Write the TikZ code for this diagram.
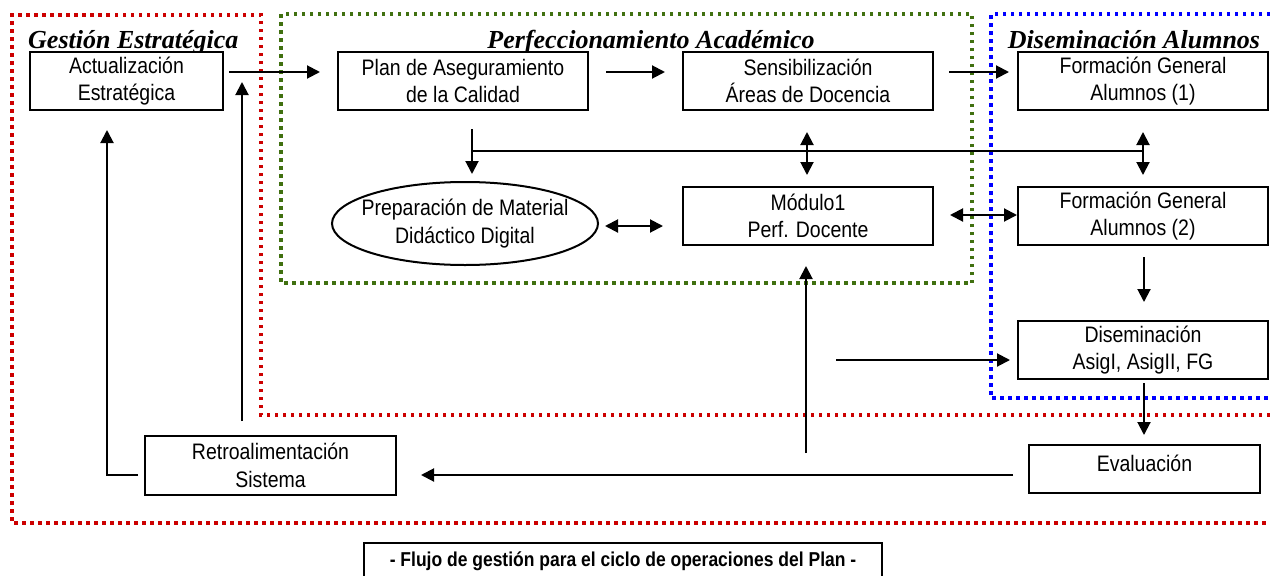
\documentclass[tikz,border=0pt]{standalone}
\usepackage{fontspec}
\newfontfamily\boxfont{Liberation Sans}[FakeStretch=0.87]
\newfontfamily\titlefont{Liberation Serif}
\usetikzlibrary{arrows.meta,shapes.geometric}
\definecolor{redd}{RGB}{204,0,0}
\definecolor{greend}{RGB}{64,112,16}
\definecolor{blued}{RGB}{0,0,255}
\begin{document}
\begin{tikzpicture}[x=1pt,y=-1pt,
 boxtext/.style={align=center, inner sep=0pt, font=\boxfont\fontsize{22.4}{27.5}\selectfont},
 box/.style={boxtext, draw, line width=2pt, fill=white},
 ttl/.style={font=\titlefont\bfseries\itshape\fontsize{26}{30}\selectfont, inner sep=0pt},
 conn/.style={line width=2pt, -{Triangle[length=13pt,width=13pt]}},
 dconn/.style={line width=2pt, {Triangle[length=13pt,width=13pt]}-{Triangle[length=13pt,width=13pt]}},
 plainln/.style={line width=2pt},
 zone/.style={line width=3.5pt, dash pattern=on 3.5pt off 4.5pt},
]
\useasboundingbox (0,0) rectangle (1270,576);
\fill[white] (0,0) rectangle (1270,576);

% zones
\draw[zone, redd] (1270,415) -- (261,415) -- (261,15) -- (12,15) -- (12,523) -- (1270,523);
\draw[zone, greend] (281,14) rectangle (972,283);
\draw[zone, blued] (1270,14) -- (991,14) -- (991,398) -- (1270,398);

% titles
\node[ttl, anchor=base west] (tge) at (28,48) {Gestión Estratégica};
\node[ttl, anchor=base] (tpa) at (651,48) {Perfeccionamiento Académico};
\node[ttl, anchor=base] (tda) at (1134,48) {Diseminación Alumnos};

% boxes
\node[box, minimum width=193pt, minimum height=58pt] (act) at (126.5,81) {Actualización\\Estratégica};
\node[box, minimum width=250pt, minimum height=58pt] (plan) at (463,81) {Plan de Aseguramiento\\de la Calidad};
\node[box, minimum width=250pt, minimum height=58pt] (sens) at (808,81) {Sensibilización\\Áreas de Docencia};
\node[box, minimum width=250pt, minimum height=58pt] (fg1) at (1143,81) {Formación General\\Alumnos (1)};
\node[box, minimum width=250pt, minimum height=58pt] (fg2) at (1143,216) {Formación General\\Alumnos (2)};
\node[box, minimum width=250pt, minimum height=58pt] (mod) at (808,216) {Módulo1\\Perf. Docente};
\node[draw, ellipse, line width=2pt, fill=white, inner sep=0pt, minimum width=266pt, minimum height=83pt,
  label={[boxtext]center:Preparación de Material\\Didáctico Digital}] (ell) at (465,223.5) {};
\node[box, minimum width=250pt, minimum height=58pt] (dis) at (1143,350) {Diseminación\\AsigI, AsigII, FG};
\node[box, minimum width=231pt, minimum height=48pt,
  label={[boxtext, yshift=6pt]center:Evaluación}] (eval) at (1144.5,469) {};
\node[box, minimum width=251pt, minimum height=59pt] (retro) at (270.5,465.5) {Retroalimentación\\Sistema};
\node[draw, line width=2pt, inner sep=0pt, minimum width=518pt, minimum height=36pt,
  font=\boxfont\bfseries\fontsize{20.1}{24}\selectfont] (cap) at (623,561) {- Flujo de gestión para el ciclo de operaciones del Plan -};

% connector end points
\coordinate (a1) at (229,72);  \coordinate (a2) at (320,72);
\coordinate (b1) at (606,72);  \coordinate (b2) at (665,72);
\coordinate (c1) at (949,72);  \coordinate (c2) at (1009,72);
\coordinate (d1) at (472,129); \coordinate (d2) at (472,174);
\coordinate (h1) at (472,151); \coordinate (h2) at (1143,151);
\coordinate (e1) at (807,132); \coordinate (e2) at (807,175);
\coordinate (f1) at (1143,132); \coordinate (f2) at (1143,175);
\coordinate (g1) at (605,226); \coordinate (g2) at (663,226);
\coordinate (i1) at (950,215); \coordinate (i2) at (1017,215);
\coordinate (j1) at (1144,257); \coordinate (j2) at (1144,302);
\coordinate (k1) at (836,360); \coordinate (k2) at (1010,360);
\coordinate (l1) at (1144,383); \coordinate (l2) at (1144,435);
\coordinate (m1) at (1013,475); \coordinate (m2) at (421,475);
\coordinate (n1) at (806,453); \coordinate (n2) at (806,266);
\coordinate (o1) at (138,475); \coordinate (o2) at (107,475); \coordinate (o3) at (107,130);
\coordinate (p1) at (242,421); \coordinate (p2) at (242,82);

% connectors
\draw[conn] (a1) -- (a2);
\draw[conn] (b1) -- (b2);
\draw[conn] (c1) -- (c2);
\draw[conn] (d1) -- (d2);
\draw[plainln] (h1) -- (h2);
\draw[dconn] (e1) -- (e2);
\draw[dconn] (f1) -- (f2);
\draw[dconn] (g1) -- (g2);
\draw[dconn] (i1) -- (i2);
\draw[conn] (j1) -- (j2);
\draw[conn] (k1) -- (k2);
\draw[conn] (l1) -- (l2);
\draw[conn] (m1) -- (m2);
\draw[conn] (n1) -- (n2);
\draw[conn] (o1) -- (o2) -- (o3);
\draw[conn] (p1) -- (p2);
\end{tikzpicture}
\end{document}
